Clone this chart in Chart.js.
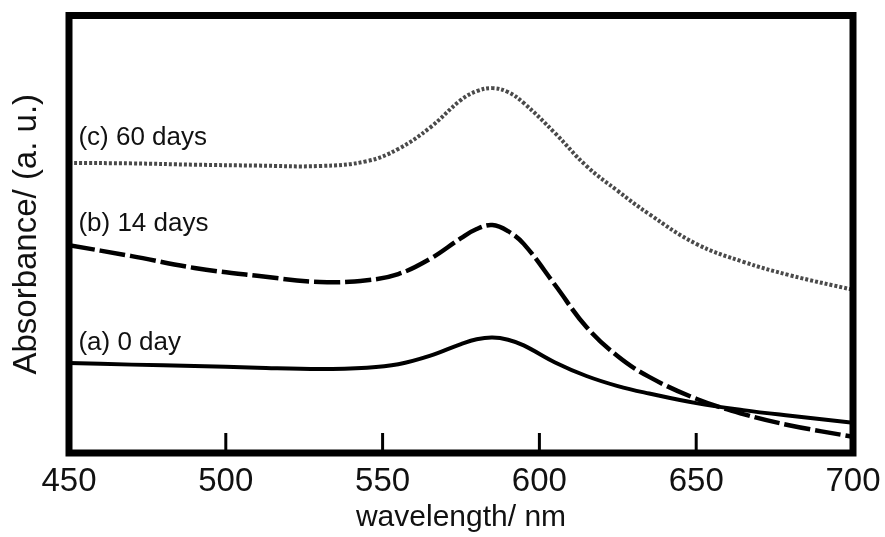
<!DOCTYPE html>
<html>
<head>
<meta charset="utf-8">
<script src="https://cdn.jsdelivr.net/npm/chart.js@4/dist/chart.umd.min.js"></script>
<style>
    html, body { margin: 0; padding: 0; background: #fff; }
    #abs-chart { display: block; }
</style>
</head>
<body>
<canvas id="abs-chart" width="885" height="537"></canvas>
<script>
    // wavelengths (nm) and absorbance (a. u.)
    const wavelengths = [450, 470, 490, 510, 530, 545, 555, 565, 575, 580, 585, 590, 595, 605, 615, 625, 635, 650, 665, 680, 700];
    const day0 = [0.206, 0.202, 0.199, 0.195, 0.192, 0.195, 0.203, 0.222, 0.249, 0.260, 0.264, 0.259, 0.246, 0.207, 0.176, 0.153, 0.136, 0.114, 0.098, 0.085, 0.069];
    const day14 = [0.475, 0.450, 0.423, 0.405, 0.391, 0.395, 0.409, 0.443, 0.491, 0.512, 0.521, 0.507, 0.478, 0.384, 0.288, 0.221, 0.174, 0.124, 0.089, 0.063, 0.037];
    const day60 = [0.663, 0.662, 0.659, 0.657, 0.656, 0.667, 0.695, 0.743, 0.807, 0.827, 0.834, 0.825, 0.800, 0.731, 0.656, 0.599, 0.546, 0.478, 0.437, 0.406, 0.373];
    const seriesLabels = ['(a) 0 day', '(b) 14 days', '(c) 60 days'];
    const labelSpots = [[453, 0.235], [453, 0.507], [453, 0.704]];
    const xTicks = [450, 500, 550, 600, 650, 700];

    const font = '"Liberation Sans", Arial, Helvetica, sans-serif';

    function toPoints(vals) {
        return wavelengths.map((w, i) => ({ x: w, y: vals[i] }));
    }

    // thick frame, inward ticks and curve labels
    const framePlugin = {
        id: 'frame',
        afterDraw(chart) {
            const c = chart.ctx;
            const a = chart.chartArea;
            const xs = chart.scales.x;
            const ys = chart.scales.y;
            c.save();
            c.strokeStyle = '#000';
            c.lineWidth = 3;
            xTicks.slice(1, -1).forEach(t => {
                const px = xs.getPixelForValue(t);
                c.beginPath();
                c.moveTo(px, a.bottom);
                c.lineTo(px, a.bottom - 20);
                c.stroke();
            });
            c.lineWidth = 7;
            c.strokeRect(a.left, a.top, a.right - a.left, a.bottom - a.top);
            c.fillStyle = '#111';
            c.font = '26px ' + font;
            c.textBaseline = 'alphabetic';
            seriesLabels.forEach((s, i) => {
                c.fillText(s, xs.getPixelForValue(labelSpots[i][0]), ys.getPixelForValue(labelSpots[i][1]));
            });
            c.restore();
        }
    };

    const ctx = document.getElementById('abs-chart').getContext('2d');
    const chart = new Chart(ctx, {
        type: 'line',
        data: {
            datasets: [{
                label: seriesLabels[0],
                data: toPoints(day0),
                borderColor: '#000',
                borderWidth: 4
            }, {
                label: seriesLabels[1],
                data: toPoints(day14),
                borderColor: '#000',
                borderWidth: 4.5,
                borderDash: [26, 5]
            }, {
                label: seriesLabels[2],
                data: toPoints(day60),
                borderColor: '#4a4a4a',
                borderWidth: 4,
                borderDash: [3, 2]
            }]
        },
        options: {
            responsive: false,
            animation: false,
            events: [],
            layout: { padding: { top: 15.5, right: 32, bottom: 1.4, left: 0 } },
            elements: {
                point: { radius: 0 },
                line: { tension: 0.4, fill: false }
            },
            plugins: {
                legend: { display: false },
                tooltip: { enabled: false }
            },
            scales: {
                x: {
                    type: 'linear',
                    min: 450,
                    max: 700,
                    afterBuildTicks: s => { s.ticks = xTicks.map(v => ({ value: v })); },
                    afterFit: s => {
                        s.height = 82.6;
                        s.paddingLeft = 0;
                        s.paddingRight = 0;
                    },
                    grid: { display: false, drawTicks: false },
                    border: { display: false },
                    ticks: { color: '#111', padding: 9, font: { family: font, size: 33 } },
                    title: {
                        display: true,
                        text: 'wavelength/ nm',
                        color: '#111',
                        padding: { top: 0, bottom: 0 },
                        font: { family: font, size: 30 }
                    }
                },
                y: {
                    min: 0,
                    max: 1,
                    grid: { display: false, drawTicks: false },
                    border: { display: false },
                    ticks: { display: false },
                    title: {
                        display: true,
                        text: 'Absorbance/ (a. u.)',
                        color: '#111',
                        padding: { top: 6.7, bottom: 22.7 },
                        font: { family: font, size: 33 }
                    }
                }
            }
        },
        plugins: [framePlugin]
    });
</script>
</body>
</html>
